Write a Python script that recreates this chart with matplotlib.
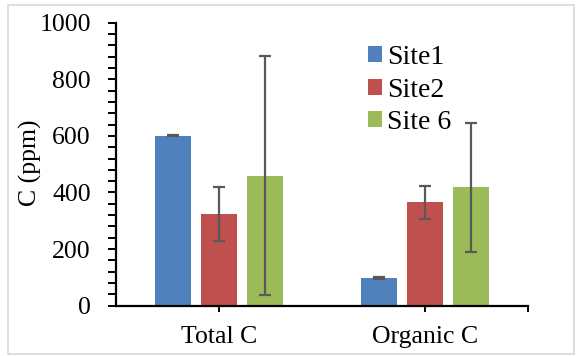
import matplotlib
matplotlib.use("Agg")
import matplotlib.pyplot as plt
from matplotlib.patches import Rectangle
from matplotlib.ticker import MultipleLocator
import numpy as np

categories = ["Total C", "Organic C"]
series = ["Site1", "Site2", "Site 6"]
site1 = [600, 99]
site2 = [323, 365]
site6 = [460, 418]
site1_err = [2, 3]
site2_err = [96, 58]
site6_err = [422, 228]
colors = ["#4F81BD", "#C0504D", "#9BBB59"]

plt.rcParams['font.family'] = ['Liberation Serif', 'DejaVu Serif']

W, H = 576, 356
fig = plt.figure(figsize=(W / 100, H / 100), dpi=100)
ax = fig.add_axes([115.7 / W, 1 - 305.7 / H, (528.3 - 115.7) / W, (305.7 - 22.7) / H])

# figure border
fig.patches.append(Rectangle((8 / W, 1 - 354 / H), (574 - 8) / W, (354 - 5) / H,
                             transform=fig.transFigure, fill=False,
                             edgecolor="#d9d9d9", linewidth=1.2))

x = np.arange(len(categories))
bw = 36 / 206.3
off = 46 / 206.3
vals = [site1, site2, site6]
errs = [site1_err, site2_err, site6_err]
for i, (v, e, c, lab) in enumerate(zip(vals, errs, colors, series)):
    ax.bar(x + (i - 1) * off, v, width=bw, color=c, label=lab, zorder=2)
    ax.errorbar(x + (i - 1) * off, v, yerr=e, fmt='none', ecolor="#595959",
                elinewidth=1.6, capsize=4.3, capthick=1.6, zorder=3)

ax.set_xlim(-0.5, 1.5)
ax.set_ylim(0, 1000)
ax.yaxis.set_major_locator(MultipleLocator(200))
ax.yaxis.set_minor_locator(MultipleLocator(40))
ax.set_xticks([0, 1, 1.5])
ax.set_xticklabels(["Total C", "Organic C", ""])
for s in ["top", "right"]:
    ax.spines[s].set_visible(False)
for s in ["left", "bottom"]:
    ax.spines[s].set_linewidth(1.6)
    ax.spines[s].set_color("black")
ax.tick_params(axis='y', which='both', direction='out', length=5.8, width=1.4,
               labelsize=18.5, pad=12)
ax.tick_params(axis='x', which='major', direction='out', length=4.5, width=1.4,
               labelsize=18.5, pad=10)
ax.set_ylabel("C (ppm)", fontsize=18.5)
ax.yaxis.set_label_coords(-0.178, 0.504)

leg = ax.legend(loc='upper left', bbox_to_anchor=(0.611, 0.921),
                frameon=False, fontsize=20, handlelength=0.5, handleheight=0.5,
                handletextpad=0.2, labelspacing=0.27, borderaxespad=0, borderpad=0)

fig.savefig("out.png", dpi=100)
